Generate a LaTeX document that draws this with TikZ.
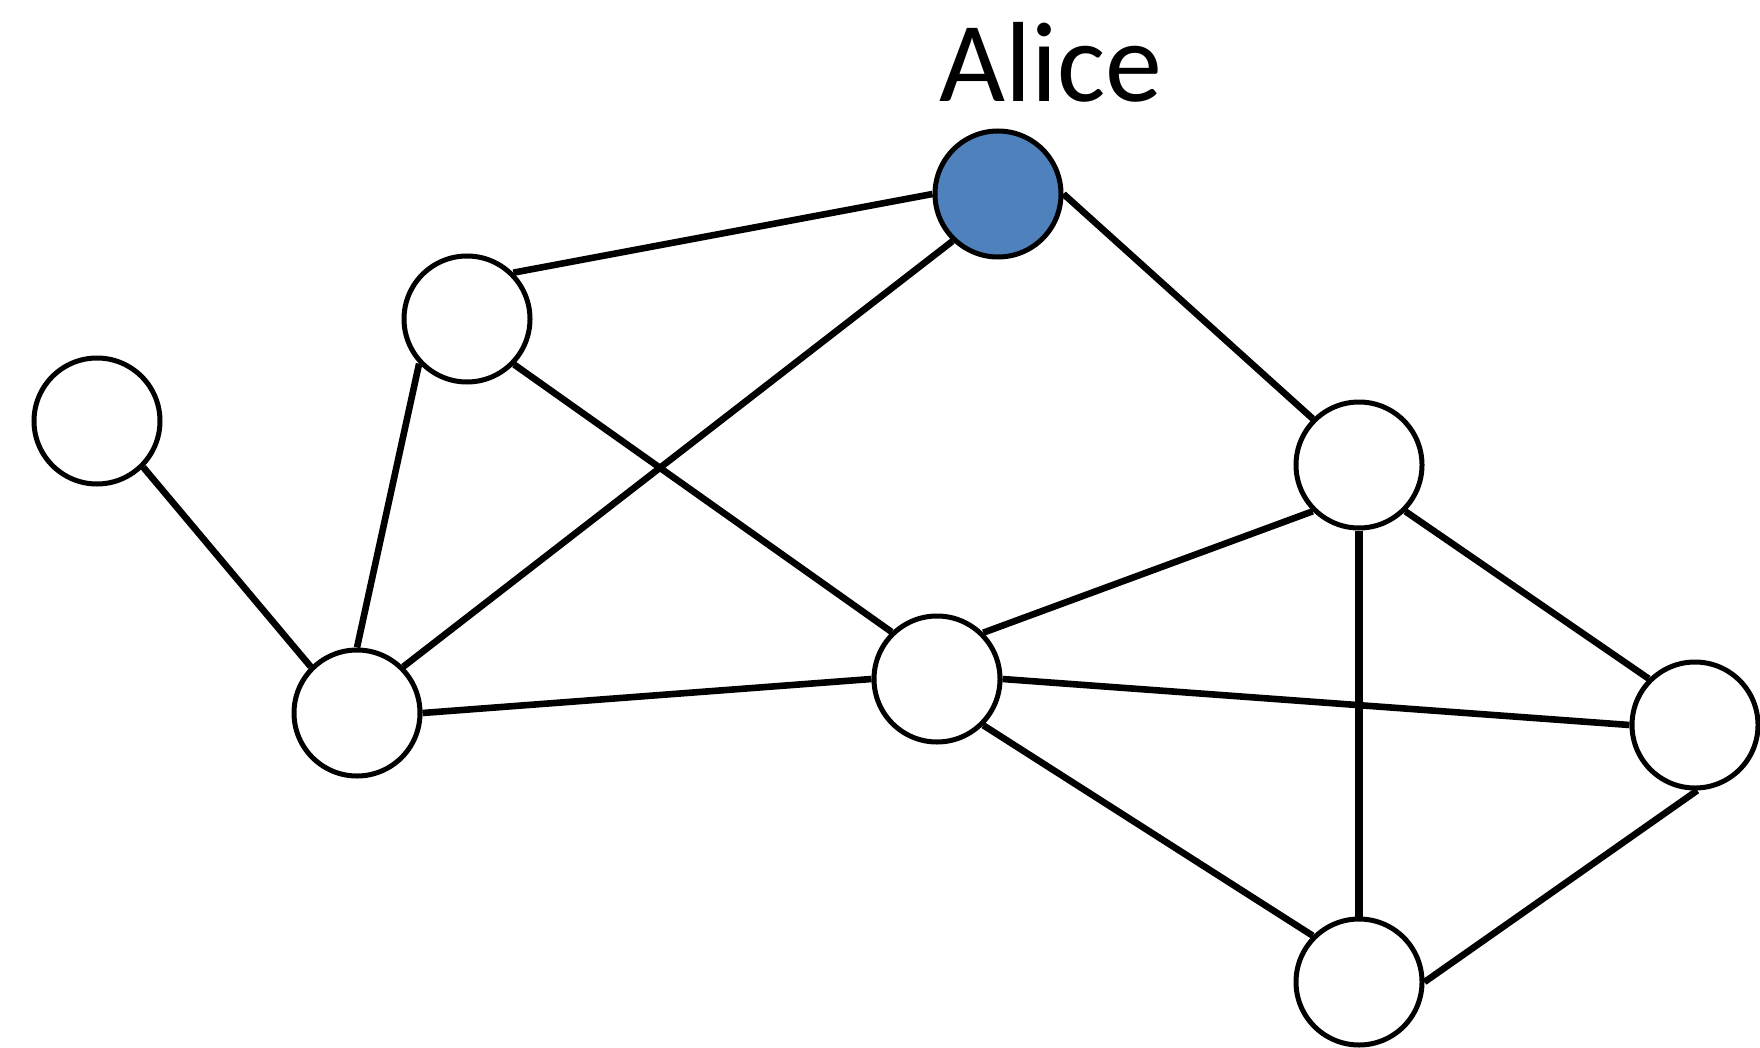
\documentclass[tikz,border=0pt]{standalone}
\usepackage{fontspec}
\setmainfont{Carlito}
\definecolor{aliceblue}{HTML}{4F81BD}
\begin{document}
\begin{tikzpicture}[x=0.5pt,y=-0.5pt,
  vertex/.style={circle,draw=black,line width=2.5pt,fill=white,minimum size=63pt,inner sep=0pt},
  edge/.style={line width=3.3pt}]
\useasboundingbox (0,0) rectangle (1760,1048);
\node[font=\fontsize{57}{68}\selectfont,anchor=base] (lbl) at (1051,102) {Alice};
\node[vertex,fill=aliceblue] (alice) at (998,194) {};
\node[vertex] (a) at (467,319) {};
\node[vertex] (b) at (97,421) {};
\node[vertex] (c) at (357,713) {};
\node[vertex] (d) at (937,679) {};
\node[vertex] (e) at (1359,465) {};
\node[vertex] (f) at (1695,725) {};
\node[vertex] (g) at (1359,982) {};
\draw[edge] (alice.180) -- (a.45);
\draw[edge] (alice.-134) -- (c.45);
\draw[edge] (alice.0) -- (e.135);
\draw[edge] (a.-137) -- (c.90);
\draw[edge] (a.-44) -- (d.134);
\draw[edge] (b.-45) -- (c.135);
\draw[edge] (c.0) -- (d.180);
\draw[edge] (d.45) -- (e.-135);
\draw[edge] (d.0) -- (f.180);
\draw[edge] (d.-45) -- (g.135);
\draw[edge,line width=4pt] (e.-90) -- (g.90);
\draw[edge] (e.-45) -- (f.135);
\draw[edge] (f.-88) -- (g.0);
\end{tikzpicture}
\end{document}
